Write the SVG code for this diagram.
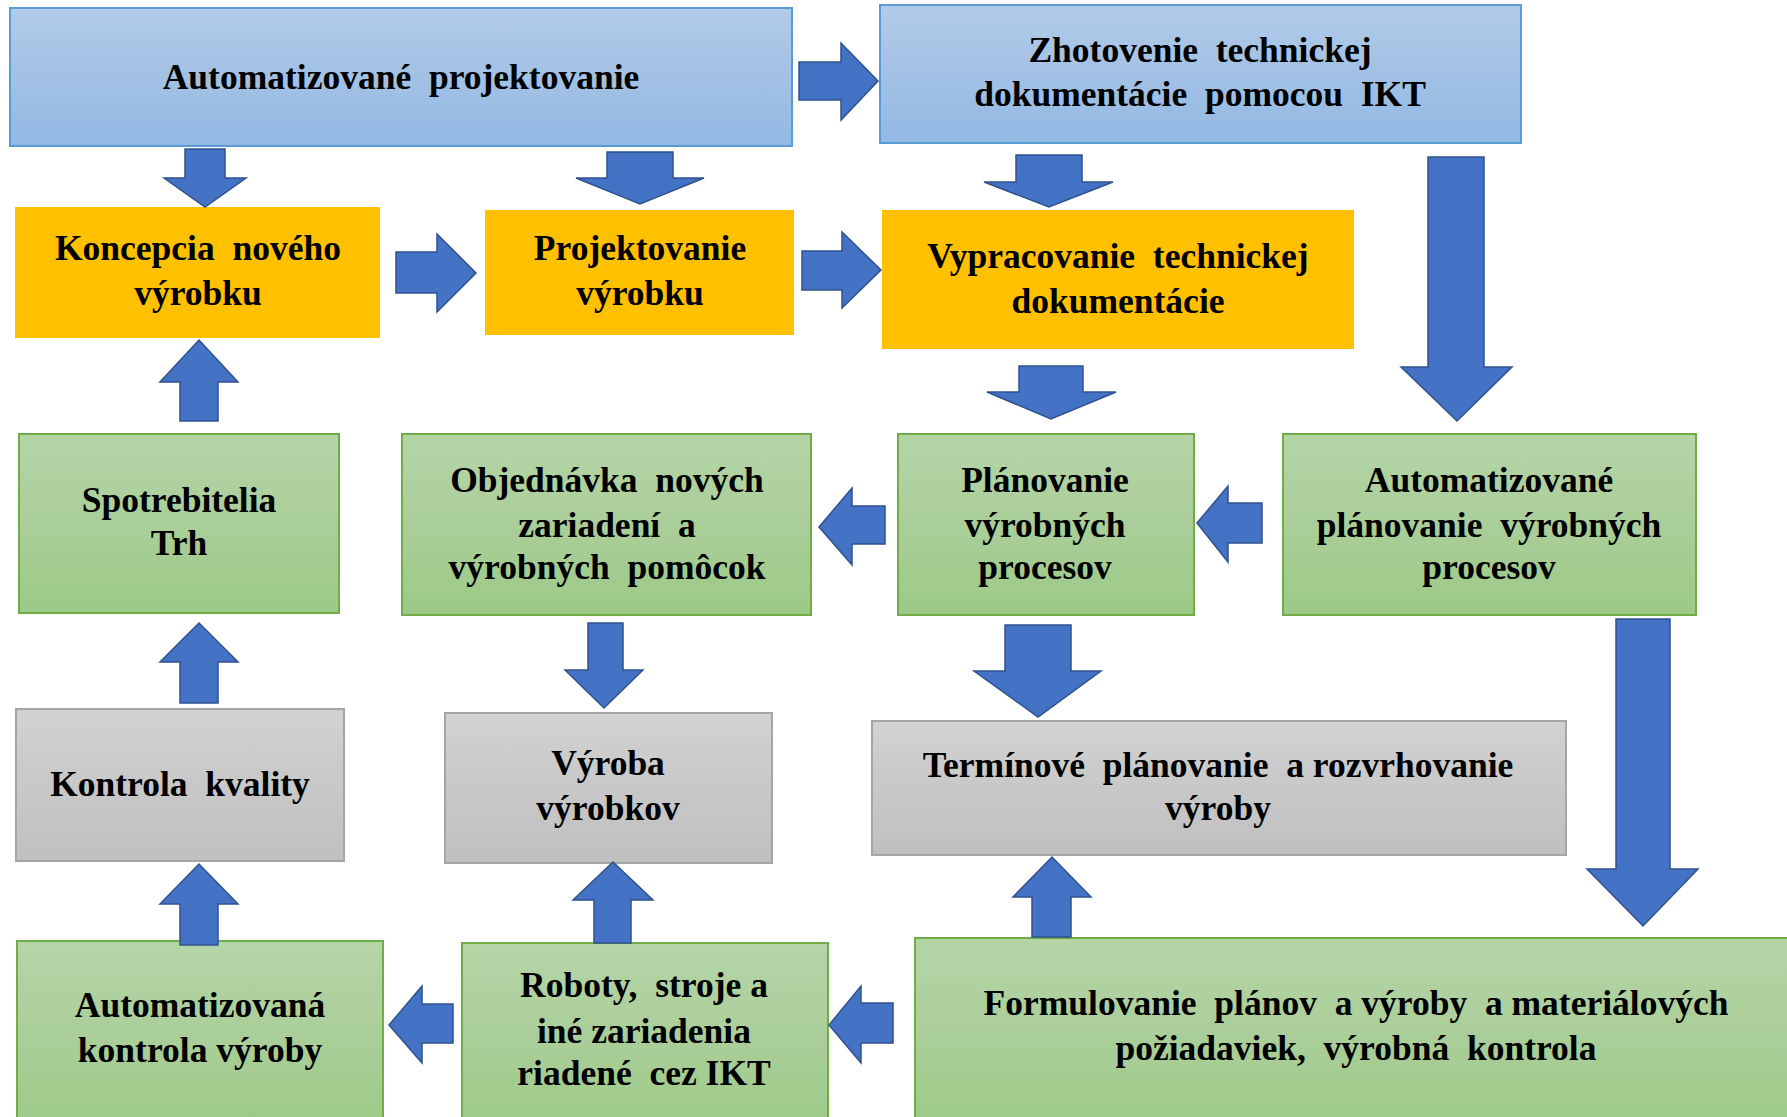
<svg xmlns="http://www.w3.org/2000/svg" width="1787" height="1117" viewBox="0 0 1787 1117">
  <defs>
    <linearGradient id="gBlue" x1="0" y1="0" x2="0" y2="1">
      <stop offset="0" stop-color="#b1cbe9"/>
      <stop offset="0.5" stop-color="#a3c1e5"/>
      <stop offset="1" stop-color="#92b9e4"/>
    </linearGradient>
    <linearGradient id="gGreen" x1="0" y1="0" x2="0" y2="1">
      <stop offset="0" stop-color="#b5d5a7"/>
      <stop offset="0.5" stop-color="#aace99"/>
      <stop offset="1" stop-color="#9cca86"/>
    </linearGradient>
    <linearGradient id="gGray" x1="0" y1="0" x2="0" y2="1">
      <stop offset="0" stop-color="#d2d2d2"/>
      <stop offset="0.5" stop-color="#c8c8c8"/>
      <stop offset="1" stop-color="#c0c0c0"/>
    </linearGradient>
  </defs>
  <style>
    .blue { fill: url(#gBlue); stroke: #5b9bd5; stroke-width: 2; }
    .orange { fill: #ffc000; stroke: #ffc000; stroke-width: 2; }
    .green { fill: url(#gGreen); stroke: #70ad47; stroke-width: 2; }
    .gray { fill: url(#gGray); stroke: #a5a5a5; stroke-width: 2; }
    .arrow { fill: #4472c4; stroke: #2f528f; stroke-width: 1.5; stroke-linejoin: miter; }
    .lbl { font-family: "Liberation Serif", serif; font-weight: bold; font-size: 35.5px; fill: #000; text-anchor: middle; white-space: pre; }
  </style>

  <!-- Row 1 -->
  <g id="auto-projektovanie">
    <rect class="blue" x="10" y="8" width="782" height="138"/>
    <text class="lbl" x="401" y="89">Automatizované  projektovanie</text>
  </g>
  <g id="zhotovenie">
    <rect class="blue" x="880" y="5" width="641" height="138"/>
    <text class="lbl" x="1200" y="62">Zhotovenie  technickej</text>
    <text class="lbl" x="1200" y="106">dokumentácie  pomocou  IKT</text>
  </g>

  <!-- Row 2 -->
  <g id="koncepcia">
    <rect class="orange" x="16" y="208" width="363" height="129"/>
    <text class="lbl" x="198" y="260">Koncepcia  nového</text>
    <text class="lbl" x="198" y="305">výrobku</text>
  </g>
  <g id="projektovanie-vyrobku">
    <rect class="orange" x="486" y="211" width="307" height="123"/>
    <text class="lbl" x="640" y="260">Projektovanie</text>
    <text class="lbl" x="640" y="305">výrobku</text>
  </g>
  <g id="vypracovanie">
    <rect class="orange" x="883" y="211" width="470" height="137"/>
    <text class="lbl" x="1118" y="268">Vypracovanie  technickej</text>
    <text class="lbl" x="1118" y="313">dokumentácie</text>
  </g>

  <!-- Row 3 -->
  <g id="spotrebitelia">
    <rect class="green" x="19" y="434" width="320" height="179"/>
    <text class="lbl" x="179" y="512">Spotrebitelia</text>
    <text class="lbl" x="179" y="555">Trh</text>
  </g>
  <g id="objednavka">
    <rect class="green" x="402" y="434" width="409" height="181"/>
    <text class="lbl" x="607" y="492">Objednávka  nových</text>
    <text class="lbl" x="607" y="537">zariadení  a</text>
    <text class="lbl" x="607" y="579">výrobných  pomôcok</text>
  </g>
  <g id="planovanie">
    <rect class="green" x="898" y="434" width="296" height="181"/>
    <text class="lbl" x="1045" y="492">Plánovanie</text>
    <text class="lbl" x="1045" y="537">výrobných</text>
    <text class="lbl" x="1045" y="579">procesov</text>
  </g>
  <g id="auto-planovanie">
    <rect class="green" x="1283" y="434" width="413" height="181"/>
    <text class="lbl" x="1489" y="492">Automatizované</text>
    <text class="lbl" x="1489" y="537">plánovanie  výrobných</text>
    <text class="lbl" x="1489" y="579">procesov</text>
  </g>

  <!-- Row 4 -->
  <g id="kontrola-kvality">
    <rect class="gray" x="16" y="709" width="328" height="152"/>
    <text class="lbl" x="180" y="796">Kontrola  kvality</text>
  </g>
  <g id="vyroba">
    <rect class="gray" x="445" y="713" width="327" height="150"/>
    <text class="lbl" x="608" y="775">Výroba</text>
    <text class="lbl" x="608" y="820">výrobkov</text>
  </g>
  <g id="terminove">
    <rect class="gray" x="872" y="721" width="694" height="134"/>
    <text class="lbl" x="1218" y="777">Termínové  plánovanie  a rozvrhovanie</text>
    <text class="lbl" x="1218" y="820">výroby</text>
  </g>

  <!-- Row 5 -->
  <g id="auto-kontrola">
    <rect class="green" x="17" y="941" width="366" height="190"/>
    <text class="lbl" x="200" y="1017">Automatizovaná</text>
    <text class="lbl" x="200" y="1062">kontrola výroby</text>
  </g>
  <g id="roboty">
    <rect class="green" x="462" y="943" width="366" height="190"/>
    <text class="lbl" x="644" y="997">Roboty,  stroje a</text>
    <text class="lbl" x="644" y="1043">iné zariadenia</text>
    <text class="lbl" x="644" y="1085">riadené  cez IKT</text>
  </g>
  <g id="formulovanie">
    <rect class="green" x="915" y="938" width="890" height="195"/>
    <text class="lbl" x="1356" y="1015">Formulovanie  plánov  a výroby  a materiálových</text>
    <text class="lbl" x="1356" y="1060">požiadaviek,  výrobná  kontrola</text>
  </g>

  <!-- Block arrows -->
  <g id="connectors">
    <!-- right arrows -->
    <polygon class="arrow" points="799,62 841,62 841,43 878,81 841,120 841,100 799,100"/>
    <polygon class="arrow" points="396,252 437,252 437,234 476,273 437,312 437,293 396,293"/>
    <polygon class="arrow" points="802,251 842,251 842,232 881,270 842,308 842,290 802,290"/>
    <!-- down arrows -->
    <polygon class="arrow" points="185,149 225,149 225,178 246,178 205,207 164,178 185,178"/>
    <polygon class="arrow" points="607,152 673,152 673,178 704,178 640,204 576,178 607,178"/>
    <polygon class="arrow" points="1016,155 1082,155 1082,182 1113,182 1049,207 984,182 1016,182"/>
    <polygon class="arrow" points="1428,157 1484,157 1484,367 1512,367 1457,421 1401,367 1428,367"/>
    <polygon class="arrow" points="1019,366 1083,366 1083,392 1116,392 1051,419 987,392 1019,392"/>
    <polygon class="arrow" points="588,623 623,623 623,670 643,670 604,708 565,670 588,670"/>
    <polygon class="arrow" points="1005,625 1071,625 1071,671 1101,671 1038,717 974,671 1005,671"/>
    <polygon class="arrow" points="1616,619 1670,619 1670,869 1698,869 1643,926 1587,869 1616,869"/>
    <!-- up arrows -->
    <polygon class="arrow" points="180,421 218,421 218,382 238,382 199,340 160,382 180,382"/>
    <polygon class="arrow" points="180,703 218,703 218,662 238,662 199,623 160,662 180,662"/>
    <polygon class="arrow" points="180,945 218,945 218,904 238,904 199,864 160,904 180,904"/>
    <polygon class="arrow" points="594,943 631,943 631,900 653,900 613,862 573,900 594,900"/>
    <polygon class="arrow" points="1032,937 1071,937 1071,897 1091,897 1052,857 1013,897 1032,897"/>
    <!-- left arrows -->
    <polygon class="arrow" points="885,506 885,544 852,544 852,565 819,527 852,488 852,506"/>
    <polygon class="arrow" points="1262,503 1262,543 1228,543 1228,562 1197,523 1228,486 1228,503"/>
    <polygon class="arrow" points="453,1004 453,1043 422,1043 422,1063 389,1025 422,986 422,1004"/>
    <polygon class="arrow" points="893,1003 893,1043 861,1043 861,1063 829,1025 861,986 861,1003"/>
  </g>
</svg>
